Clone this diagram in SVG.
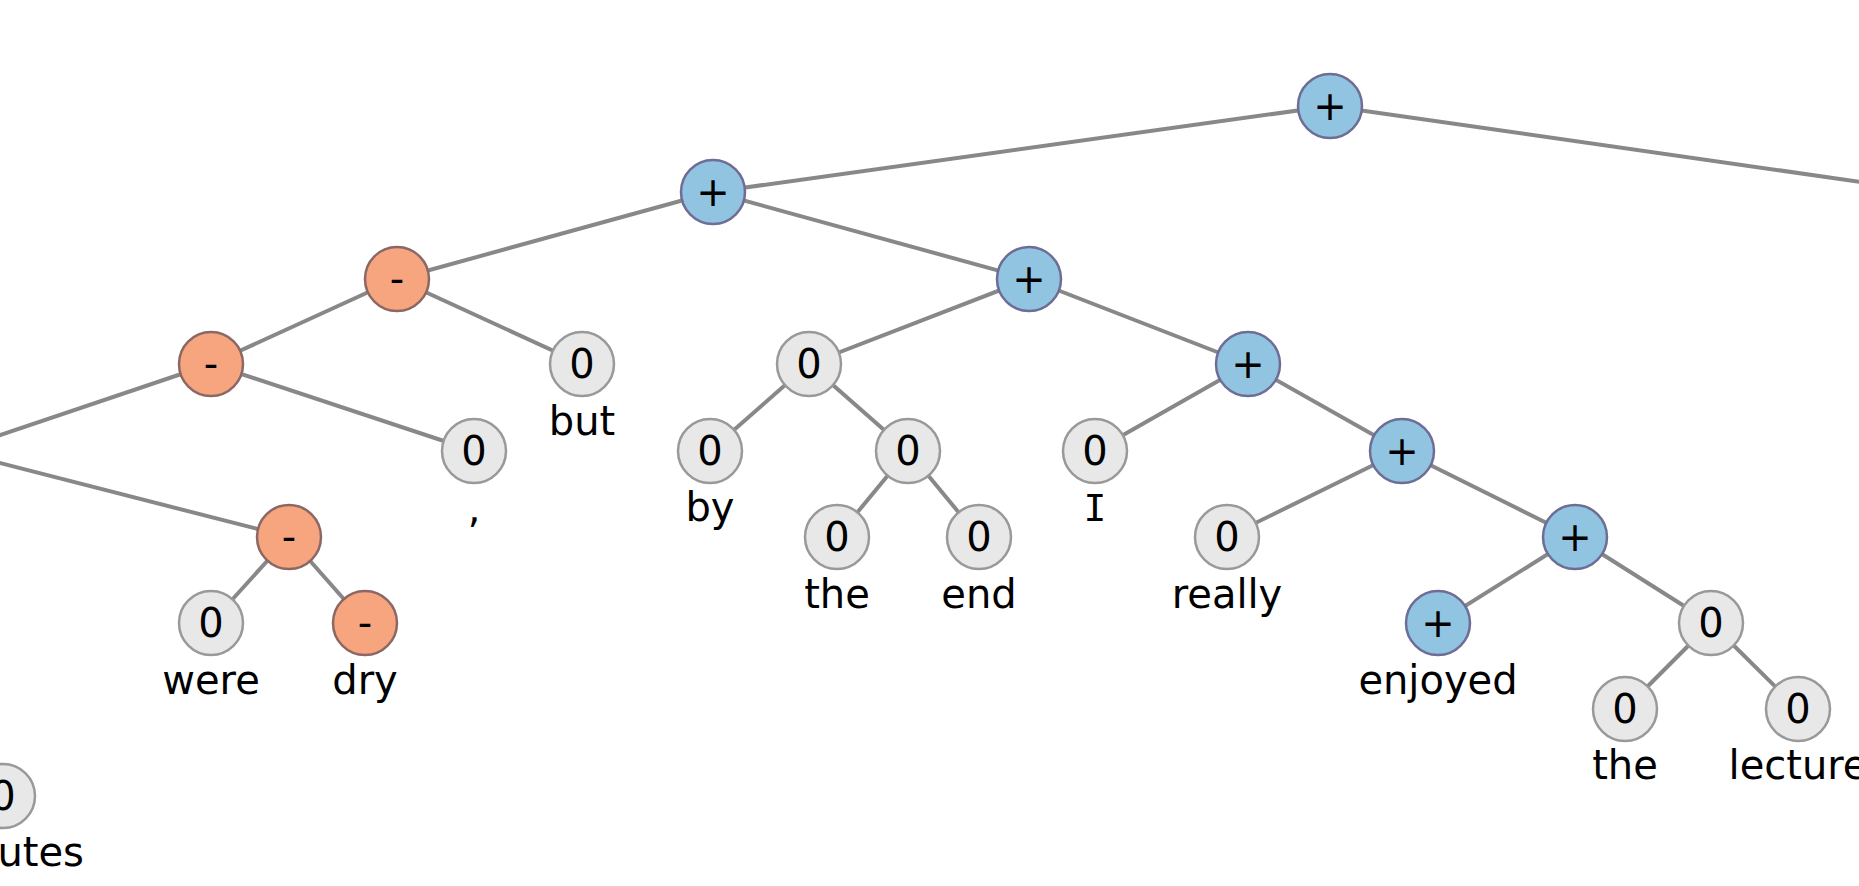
<svg xmlns="http://www.w3.org/2000/svg" width="1859" height="886" viewBox="0 0 1859 886">
  <style>
    .edge { stroke: #888888; stroke-width: 4; fill: none; }
    .node circle { stroke-width: 2.5; }
    .pos circle { fill: #91C4E0; stroke: #6D6D96; }
    .neg circle { fill: #F6A57F; stroke: #8C6865; }
    .neu circle { fill: #E8E8E8; stroke: #999999; }
    text { font-family: "DejaVu Sans", Verdana, sans-serif; font-size: 40px; fill: #000000; text-anchor: middle; }
    text.serif-i { font-family: "DejaVu Sans Mono", monospace; font-size: 38px; }
  </style>
  <rect width="1859" height="886" fill="#ffffff"/>

  <!-- tree edges, drawn under the nodes -->
  <g id="edges">
    <line class="edge" x1="1330" y1="106" x2="713" y2="192"/>
    <line class="edge" x1="1330" y1="106" x2="1910" y2="189"/>
    <line class="edge" x1="713" y1="192" x2="397" y2="279"/>
    <line class="edge" x1="713" y1="192" x2="1029" y2="279"/>
    <line class="edge" x1="397" y1="279" x2="211" y2="364"/>
    <line class="edge" x1="397" y1="279" x2="582" y2="364"/>
    <line class="edge" x1="211" y1="364" x2="-47" y2="451"/>
    <line class="edge" x1="211" y1="364" x2="474" y2="451"/>
    <line class="edge" x1="-47" y1="451" x2="289" y2="537"/>
    <line class="edge" x1="289" y1="537" x2="211" y2="623"/>
    <line class="edge" x1="289" y1="537" x2="365" y2="623"/>
    <line class="edge" x1="1029" y1="279" x2="809" y2="364"/>
    <line class="edge" x1="1029" y1="279" x2="1248" y2="364"/>
    <line class="edge" x1="809" y1="364" x2="710" y2="451"/>
    <line class="edge" x1="809" y1="364" x2="908" y2="451"/>
    <line class="edge" x1="908" y1="451" x2="837" y2="537"/>
    <line class="edge" x1="908" y1="451" x2="979" y2="537"/>
    <line class="edge" x1="1248" y1="364" x2="1095" y2="451"/>
    <line class="edge" x1="1248" y1="364" x2="1402" y2="451"/>
    <line class="edge" x1="1402" y1="451" x2="1227" y2="537"/>
    <line class="edge" x1="1402" y1="451" x2="1575" y2="537"/>
    <line class="edge" x1="1575" y1="537" x2="1438" y2="623"/>
    <line class="edge" x1="1575" y1="537" x2="1711" y2="623"/>
    <line class="edge" x1="1711" y1="623" x2="1625" y2="709"/>
    <line class="edge" x1="1711" y1="623" x2="1798" y2="709"/>
  </g>

  <!-- nodes: circle with sentiment mark, word label underneath -->
  <g id="n-root" class="node pos"><circle cx="1330" cy="106" r="32"/><text x="1330" y="120">+</text></g>
  <g id="n-l1" class="node pos"><circle cx="713" cy="192" r="32"/><text x="713" y="206">+</text></g>
  <g id="n-neg-a" class="node neg"><circle cx="397" cy="279" r="32"/><text x="397" y="293">-</text></g>
  <g id="n-neg-b" class="node neg"><circle cx="211" cy="364" r="32"/><text x="211" y="378">-</text></g>
  <g id="n-but" class="node neu"><circle cx="582" cy="364" r="32"/><text x="582" y="378">0</text><text x="582" y="435">but</text></g>
  <g id="n-comma" class="node neu"><circle cx="474" cy="451" r="32"/><text x="474" y="465">0</text><text x="474" y="522">,</text></g>
  <g id="n-neg-c" class="node neg"><circle cx="289" cy="537" r="32"/><text x="289" y="551">-</text></g>
  <g id="n-were" class="node neu"><circle cx="211" cy="623" r="32"/><text x="211" y="637">0</text><text x="211" y="694">were</text></g>
  <g id="n-dry" class="node neg"><circle cx="365" cy="623" r="32"/><text x="365" y="637">-</text><text x="365" y="694">dry</text></g>
  <g id="n-minutes" class="node neu"><circle cx="3" cy="796" r="32"/><text x="3" y="810">0</text><text x="3" y="866">minutes</text></g>

  <g id="n-pos-a" class="node pos"><circle cx="1029" cy="279" r="32"/><text x="1029" y="293">+</text></g>
  <g id="n-neu-a" class="node neu"><circle cx="809" cy="364" r="32"/><text x="809" y="378">0</text></g>
  <g id="n-by" class="node neu"><circle cx="710" cy="451" r="32"/><text x="710" y="465">0</text><text x="710" y="521">by</text></g>
  <g id="n-neu-b" class="node neu"><circle cx="908" cy="451" r="32"/><text x="908" y="465">0</text></g>
  <g id="n-the1" class="node neu"><circle cx="837" cy="537" r="32"/><text x="837" y="551">0</text><text x="837" y="608">the</text></g>
  <g id="n-end" class="node neu"><circle cx="979" cy="537" r="32"/><text x="979" y="551">0</text><text x="979" y="608">end</text></g>
  <g id="n-pos-b" class="node pos"><circle cx="1248" cy="364" r="32"/><text x="1248" y="378">+</text></g>
  <g id="n-i" class="node neu"><circle cx="1095" cy="451" r="32"/><text x="1095" y="465">0</text><text class="serif-i" x="1095" y="521">I</text></g>
  <g id="n-pos-c" class="node pos"><circle cx="1402" cy="451" r="32"/><text x="1402" y="465">+</text></g>
  <g id="n-really" class="node neu"><circle cx="1227" cy="537" r="32"/><text x="1227" y="551">0</text><text x="1227" y="608">really</text></g>
  <g id="n-pos-d" class="node pos"><circle cx="1575" cy="537" r="32"/><text x="1575" y="551">+</text></g>
  <g id="n-enjoyed" class="node pos"><circle cx="1438" cy="623" r="32"/><text x="1438" y="637">+</text><text x="1438" y="694">enjoyed</text></g>
  <g id="n-neu-c" class="node neu"><circle cx="1711" cy="623" r="32"/><text x="1711" y="637">0</text></g>
  <g id="n-the2" class="node neu"><circle cx="1625" cy="709" r="32"/><text x="1625" y="723">0</text><text x="1625" y="779">the</text></g>
  <g id="n-lecture" class="node neu"><circle cx="1798" cy="709" r="32"/><text x="1798" y="723">0</text><text x="1798" y="779">lecture</text></g>
</svg>
